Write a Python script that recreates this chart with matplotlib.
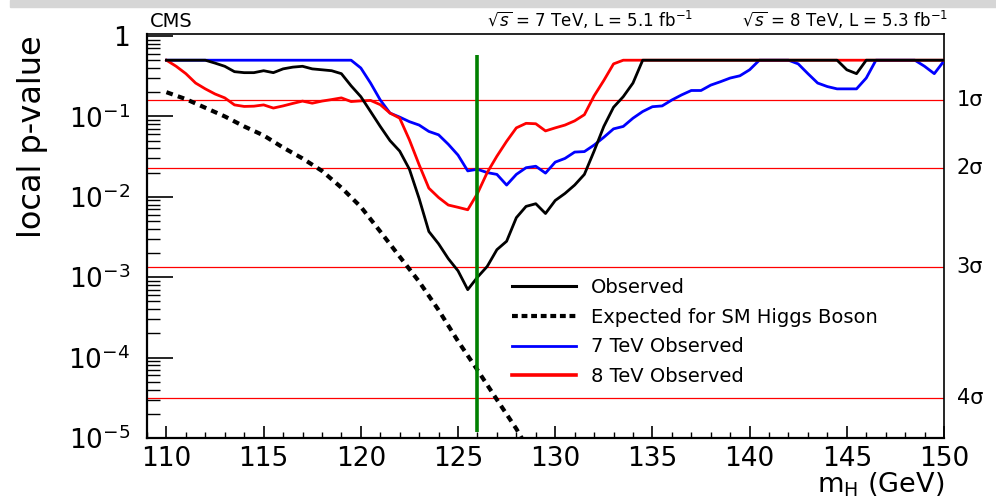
import numpy as np
import matplotlib
matplotlib.use("Agg")
import matplotlib.pyplot as plt
import matplotlib.patches as mpatches
from matplotlib.ticker import MultipleLocator, FixedLocator, NullFormatter
from matplotlib.lines import Line2D

# local p-value scan vs Higgs mass
mass = [110.0, 110.5, 111.0, 111.5, 112.0, 112.5, 113.0, 113.5, 114.0, 114.5,
        115.0, 115.5, 116.0, 116.5, 117.0, 117.5, 118.0, 118.5, 119.0, 119.5,
        120.0, 120.5, 121.0, 121.5, 122.0, 122.5, 123.0, 123.5, 124.0, 124.5,
        125.0, 125.5, 126.0, 126.5, 127.0, 127.5, 128.0, 128.5, 129.0, 129.5,
        130.0, 130.5, 131.0, 131.5, 132.0, 132.5, 133.0, 133.5, 134.0, 134.5,
        135.0, 135.5, 136.0, 136.5, 137.0, 137.5, 138.0, 138.5, 139.0, 139.5,
        140.0, 140.5, 141.0, 141.5, 142.0, 142.5, 143.0, 143.5, 144.0, 144.5,
        145.0, 145.5, 146.0, 146.5, 147.0, 147.5, 148.0, 148.5, 149.0, 149.5,
        150.0]

p_obs = [0.5, 0.5, 0.5, 0.5, 0.5, 0.46, 0.42, 0.36, 0.35, 0.35,
         0.37, 0.35, 0.39, 0.41, 0.42, 0.39, 0.38, 0.37, 0.34, 0.24,
         0.176, 0.115, 0.075, 0.05, 0.037, 0.022, 0.0095, 0.0037, 0.0026, 0.0017,
         0.0012, 0.0007, 0.001, 0.00136, 0.0022, 0.0028, 0.0055, 0.0076, 0.0082, 0.0062,
         0.009, 0.011, 0.014, 0.019, 0.037, 0.075, 0.13, 0.176, 0.26, 0.5,
         0.5, 0.5, 0.5, 0.5, 0.5, 0.5, 0.5, 0.5, 0.5, 0.5,
         0.5, 0.5, 0.5, 0.5, 0.5, 0.5, 0.5, 0.5, 0.5, 0.5,
         0.38, 0.34, 0.5, 0.5, 0.5, 0.5, 0.5, 0.5, 0.5, 0.5,
         0.5]

p_8tev = [0.5, 0.42, 0.34, 0.26, 0.22, 0.19, 0.17, 0.139, 0.133, 0.134,
          0.139, 0.127, 0.135, 0.145, 0.155, 0.146, 0.155, 0.162, 0.17, 0.153,
          0.156, 0.158, 0.14, 0.11, 0.095, 0.051, 0.025, 0.0128, 0.0098, 0.0079,
          0.0074, 0.0069, 0.011, 0.02, 0.032, 0.049, 0.072, 0.082, 0.081, 0.066,
          0.072, 0.078, 0.088, 0.105, 0.18, 0.28, 0.45, 0.5, 0.5, 0.5,
          0.5, 0.5, 0.5, 0.5, 0.5, 0.5, 0.5, 0.5, 0.5, 0.5,
          0.5, 0.5, 0.5, 0.5, 0.5, 0.5, 0.5, 0.5, 0.5, 0.5,
          0.5, 0.5, 0.5, 0.5, 0.5, 0.5, 0.5, 0.5, 0.5, 0.5,
          0.5]

p_7tev = [0.5, 0.5, 0.5, 0.5, 0.5, 0.5, 0.5, 0.5, 0.5, 0.5,
          0.5, 0.5, 0.5, 0.5, 0.5, 0.5, 0.5, 0.5, 0.5, 0.5,
          0.40, 0.26, 0.16, 0.11, 0.098, 0.086, 0.078, 0.065, 0.059, 0.045,
          0.033, 0.021, 0.022, 0.02, 0.019, 0.014, 0.019, 0.023, 0.024, 0.0197,
          0.027, 0.030, 0.036, 0.0365, 0.044, 0.055, 0.07, 0.075, 0.095, 0.115,
          0.132, 0.135, 0.16, 0.185, 0.21, 0.21, 0.245, 0.27, 0.30, 0.32,
          0.38, 0.5, 0.5, 0.5, 0.5, 0.45, 0.34, 0.26, 0.235, 0.22,
          0.22, 0.22, 0.30, 0.5, 0.5, 0.5, 0.5, 0.5, 0.42, 0.34,
          0.49]

# expected significance for a SM Higgs
mass_exp = [110, 111, 112, 113, 114, 115, 116, 117, 118, 119,
            120, 121, 122, 123, 124, 125, 126, 127, 128, 129]
p_exp = [0.2, 0.164, 0.128, 0.1, 0.075, 0.058, 0.041, 0.03, 0.021, 0.013,
         0.0075, 0.0037, 0.0018, 0.00088, 0.00039, 1.6e-4, 7.0e-5, 3.0e-5, 1.3e-5, 5e-6]

# one-sided p-values for 1..4 sigma
sigma_p = [0.1587, 0.02275, 0.00135, 3.17e-5]
sigma_labels = ["1\u03c3", "2\u03c3", "3\u03c3", "4\u03c3"]

m_best = 126.0
yticks = [1e-5, 1e-4, 1e-3, 1e-2, 1e-1, 1]
yticklabels = [r"$10^{-5}$", r"$10^{-4}$", r"$10^{-3}$", r"$10^{-2}$", r"$10^{-1}$", "1"]

plt.rcParams['font.family'] = ['DejaVu Sans']
plt.rcParams['mathtext.fontset'] = 'dejavusans'

fig = plt.figure(figsize=(9.96, 4.99), dpi=100)
ax = fig.add_axes([147/996, 1 - 438/499, 797/996, 404/499])

# slide background strip along the top
fig.patches.append(mpatches.Rectangle((10/996, 1 - 7/499), 1, 7/499,
                   transform=fig.transFigure, color='#d6d6d6', zorder=0))

for p in sigma_p:
    ax.axhline(p, color='red', lw=0.9, zorder=1)
for p, lab in zip(sigma_p, sigma_labels):
    ax.text(1.016, p, lab, transform=ax.get_yaxis_transform(), fontsize=15,
            ha='left', va='center')

ax.plot(mass_exp, p_exp, color='black', lw=3.0, linestyle=(0, (1.6, 1.3)),
        zorder=2)
ax.plot(mass, p_7tev, color='blue', lw=2.0, zorder=3)
ax.plot(mass, p_8tev, color='red', lw=2.0, zorder=4)
ax.plot(mass, p_obs, color='black', lw=2.0, zorder=5)
ax.vlines(m_best, 1.2e-5, 0.58, color='green', lw=2.6, zorder=6)

ax.set_yscale('log')
ax.set_xlim(109, 150)
ax.set_ylim(1e-5, 1.059)

ax.xaxis.set_major_locator(MultipleLocator(5))
ax.xaxis.set_minor_locator(MultipleLocator(1))
ax.yaxis.set_major_locator(FixedLocator(yticks))
ax.set_yticklabels(yticklabels)
minor = [k * 10.0**e for e in range(-5, 0) for k in range(2, 10)]
ax.yaxis.set_minor_locator(FixedLocator(minor))
ax.yaxis.set_minor_formatter(NullFormatter())

ax.tick_params(axis='y', which='major', direction='in', length=19, width=1.2,
               labelsize=19, pad=12, right=False)
ax.tick_params(axis='y', which='minor', direction='in', length=9.5, width=1.0,
               right=False)
ax.tick_params(axis='x', which='major', direction='in', length=8.5, width=1.2,
               labelsize=19, pad=6, top=False)
ax.tick_params(axis='x', which='minor', direction='in', length=4.3, width=1.0,
               top=False)
for s in ['left', 'bottom']:
    ax.spines[s].set_linewidth(1.6)
for s in ['top', 'right']:
    ax.spines[s].set_linewidth(1.2)

fig.text(33/996, 1 - 35/499, "local p-value", rotation=90, fontsize=23,
         ha='center', va='top')
fig.text(944/996, 0.0, r"$\mathregular{m_H}$ (GeV)", fontsize=19.5,
         ha='right', va='bottom')

fig.text(150/996, 1 - 27/499, "CMS", fontsize=14, va='baseline')
fig.text(693/996, 1 - 27/499, r"$\sqrt{s}$ = 7 TeV, L = 5.1 fb$^{-1}$",
         fontsize=12, ha='right', va='baseline')
fig.text(948/996, 1 - 27/499, r"$\sqrt{s}$ = 8 TeV, L = 5.3 fb$^{-1}$",
         fontsize=12, ha='right', va='baseline')

handles = [Line2D([], [], color='black', lw=2.2),
           Line2D([], [], color='black', lw=3.0, linestyle=(0, (1.4, 0.9))),
           Line2D([], [], color='blue', lw=2.0),
           Line2D([], [], color='red', lw=2.6)]
labels = ["Observed", "Expected for SM Higgs Boson", "7 TeV Observed",
          "8 TeV Observed"]
ax.legend(handles, labels, loc='upper left', frameon=False, fontsize=14,
          bbox_to_anchor=(512/996, 1 - 278/499), bbox_transform=fig.transFigure,
          borderpad=0, borderaxespad=0, handlelength=3.3, handletextpad=0.75,
          labelspacing=0.55)

plt.savefig("out.png", dpi=100)
